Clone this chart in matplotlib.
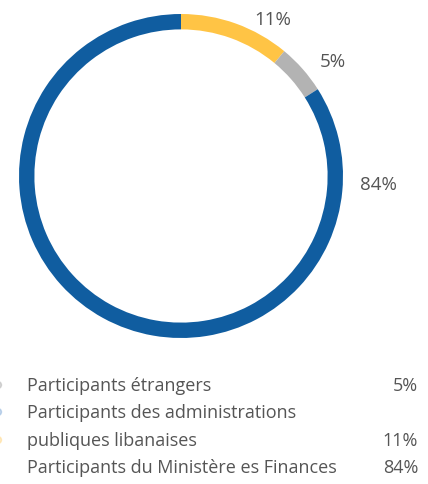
import matplotlib
matplotlib.use("Agg")
import matplotlib.pyplot as plt

# Données du graphique
categories = ["Participants des administrations publiques libanaises",
              "Participants étrangers",
              "Participants du Ministère es Finances"]
valeurs = [11, 5, 84]
couleurs = ["#FFC445", "#B3B3B3", "#105DA0"]

legende_textes = ["Participants étrangers",
                  "Participants des administrations",
                  "publiques libanaises",
                  "Participants du Ministère es Finances"]
legende_valeurs = ["5%", "", "11%", "84%"]
legende_points = ["#B3B3B3", "#8FB3DC", "#FFD98A", None]

plt.rcParams['font.family'] = ['Open Sans', 'DejaVu Sans']
gris_texte = "#555555"

W, H = 428, 485
fig = plt.figure(figsize=(W / 100, H / 100), dpi=100)

# Anneau (centre ~ (181, 177), rayon ~ 162 px)
cx, cy, r = 181, 177, 162
ax = fig.add_axes([(cx - r) / W, (H - cy - r) / H, 2 * r / W, 2 * r / H])
ax.pie(valeurs, colors=couleurs, startangle=90, counterclock=False,
       radius=1, wedgeprops=dict(width=0.095, edgecolor="none"))
ax.set_xlim(-1, 1)
ax.set_ylim(-1, 1)
ax.set_aspect("equal")
ax.axis("off")

# Étiquettes des pourcentages
positions_etiquettes = [(273, 20), (333, 62), (378, 185)]
for v, (px, py) in zip(valeurs, positions_etiquettes):
    fig.text(px / W, 1 - py / H, f"{v}%", ha="center", va="center",
             fontsize=13.5, color=gris_texte)

# Légende
lignes_y = [386, 413, 441, 468]
for texte, val, pt, y in zip(legende_textes, legende_valeurs, legende_points, lignes_y):
    fig.text(27 / W, 1 - y / H, texte, ha="left", va="center",
             fontsize=13, color=gris_texte)
    if val:
        fig.text(418 / W, 1 - y / H, val, ha="right", va="center",
                 fontsize=13, color=gris_texte)
    if pt:
        fig.add_artist(matplotlib.patches.Ellipse((-2 / W, 1 - y / H), 7 / W, 7 / H,
                                                  transform=fig.transFigure,
                                                  color=pt, alpha=0.5))

fig.savefig("out.png", dpi=100)
